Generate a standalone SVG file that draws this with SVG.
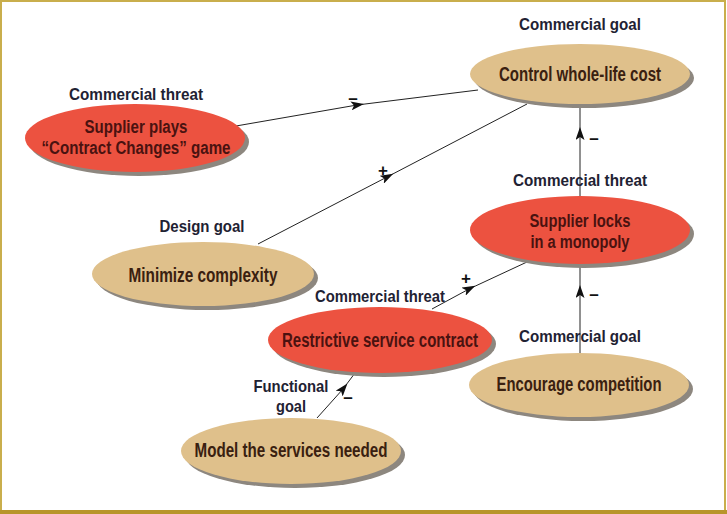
<svg xmlns="http://www.w3.org/2000/svg" width="727" height="514" viewBox="0 0 727 514">
<style>
.shadow{fill:#8d877f}
.tan{fill:#dfc08b}
.red{fill:#ec5240}
.nt{font-family:"Liberation Sans",Arial,sans-serif;font-weight:bold;font-size:19.5px;text-anchor:middle;fill:#3a2010}
.two{font-size:18px}
.rt{fill:#4a1210}
.lb{font-family:"Liberation Sans",Arial,sans-serif;font-weight:bold;font-size:17px;text-anchor:middle;fill:#1f2233}
.sg{font-family:"Liberation Sans",Arial,sans-serif;font-weight:bold;font-size:17px;text-anchor:middle;fill:#111}
.edge{fill:none;stroke:#222;stroke-width:1;marker-mid:url(#arr)}
</style>
<defs>
<marker id="arr" viewBox="0 0 13 9" refX="6" refY="4.5" markerWidth="13" markerHeight="9" markerUnits="userSpaceOnUse" orient="auto">
<path d="M0,0 L13,4.5 L0,9 L3,4.5 z" fill="#111"/>
</marker>
</defs>
<rect x="0" y="0" width="727" height="514" fill="#fff"/>
<rect x="1" y="1" width="724" height="512" fill="none" stroke="#c9ae4c" stroke-width="2"/>
<rect x="0" y="510" width="727" height="4" fill="#b8952a"/>

<g id="connectors">
<polyline class="edge" points="236,126 357,105 478,90"/>
<polyline class="edge" points="258,244 387,177 527,104"/>
<polyline class="edge" points="580,196 580,134 580,104"/>
<polyline class="edge" points="580,354 580,292 580,264"/>
<polyline class="edge" points="432,309 469,289 527,262"/>
<polyline class="edge" points="317,418 343,389 355,373"/>
<text class="sg" x="353" y="104">–</text>
<text class="sg" x="383" y="176">+</text>
<text class="sg" x="594" y="144">–</text>
<text class="sg" x="594" y="300">–</text>
<text class="sg" x="466" y="284">+</text>
<text class="sg" x="348" y="403">–</text>
</g>

<g id="control-cost">
<text class="lb" x="580" y="30" textLength="122" lengthAdjust="spacingAndGlyphs">Commercial goal</text>
<ellipse class="shadow" cx="584" cy="78" rx="110" ry="30"/>
<ellipse class="tan" cx="580" cy="74" rx="110" ry="30"/>
<text class="nt" x="580" y="81" textLength="162" lengthAdjust="spacingAndGlyphs">Control whole-life cost</text>
</g>

<g id="contract-changes">
<text class="lb" x="136" y="100" textLength="134" lengthAdjust="spacingAndGlyphs">Commercial threat</text>
<ellipse class="shadow" cx="139" cy="142" rx="110" ry="34"/>
<ellipse class="red" cx="135" cy="138" rx="110" ry="34"/>
<text class="nt two rt" x="136" y="133" textLength="103" lengthAdjust="spacingAndGlyphs">Supplier plays</text>
<text class="nt two rt" x="136" y="154" textLength="189" lengthAdjust="spacingAndGlyphs">“Contract Changes” game</text>
</g>

<g id="minimize-complexity">
<text class="lb" x="202" y="232" textLength="85" lengthAdjust="spacingAndGlyphs">Design goal</text>
<ellipse class="shadow" cx="207" cy="278" rx="111" ry="32"/>
<ellipse class="tan" cx="203" cy="274" rx="111" ry="32"/>
<text class="nt" x="203" y="282" textLength="149" lengthAdjust="spacingAndGlyphs">Minimize complexity</text>
</g>

<g id="monopoly">
<text class="lb" x="580" y="186" textLength="134" lengthAdjust="spacingAndGlyphs">Commercial threat</text>
<ellipse class="shadow" cx="584" cy="234" rx="110" ry="34"/>
<ellipse class="red" cx="580" cy="230" rx="110" ry="34"/>
<text class="nt two rt" x="580" y="227" textLength="101" lengthAdjust="spacingAndGlyphs">Supplier locks</text>
<text class="nt two rt" x="580" y="248" textLength="99" lengthAdjust="spacingAndGlyphs">in a monopoly</text>
</g>

<g id="restrictive-contract">
<text class="lb" x="380" y="302" textLength="130" lengthAdjust="spacingAndGlyphs">Commercial threat</text>
<ellipse class="shadow" cx="384" cy="344" rx="112" ry="33"/>
<ellipse class="red" cx="380" cy="340" rx="112" ry="33"/>
<text class="nt rt" x="380" y="347" textLength="196" lengthAdjust="spacingAndGlyphs">Restrictive service contract</text>
</g>

<g id="encourage-competition">
<text class="lb" x="580" y="342" textLength="122" lengthAdjust="spacingAndGlyphs">Commercial goal</text>
<ellipse class="shadow" cx="583" cy="389" rx="110" ry="32"/>
<ellipse class="tan" cx="579" cy="385" rx="110" ry="32"/>
<text class="nt" x="579" y="391" textLength="165" lengthAdjust="spacingAndGlyphs">Encourage competition</text>
</g>

<g id="model-services">
<text class="lb" x="291" y="392" textLength="75" lengthAdjust="spacingAndGlyphs">Functional</text>
<text class="lb" x="291" y="412" textLength="30" lengthAdjust="spacingAndGlyphs">goal</text>
<ellipse class="shadow" cx="295" cy="455" rx="110" ry="33"/>
<ellipse class="tan" cx="291" cy="451" rx="110" ry="33"/>
<text class="nt" x="291" y="457" textLength="193" lengthAdjust="spacingAndGlyphs">Model the services needed</text>
</g>
</svg>
